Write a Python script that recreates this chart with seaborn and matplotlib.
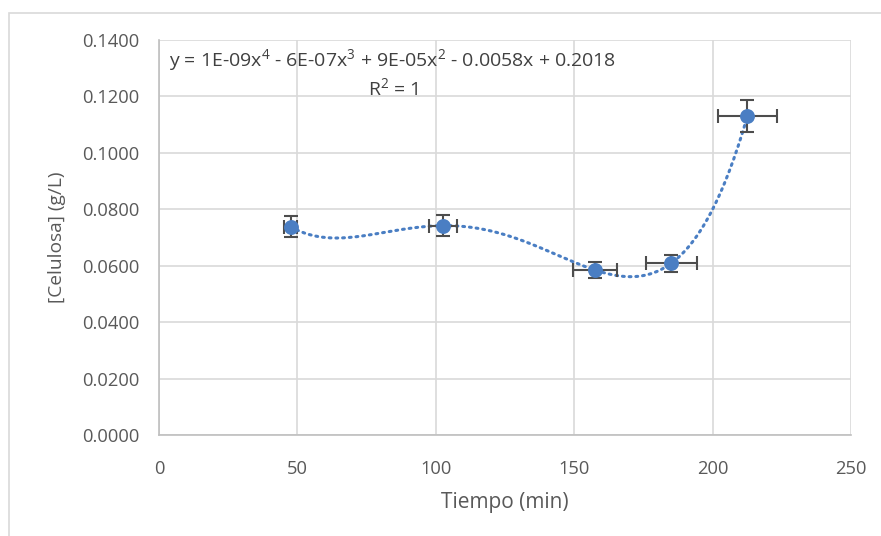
import numpy as np
import pandas as pd
import matplotlib
matplotlib.use("Agg")
import matplotlib.pyplot as plt
import seaborn as sns
from matplotlib.patches import Rectangle

# Measured cellulose concentration over time
tiempo = [47.6, 102.6, 157.4, 185.1, 212.6]          # min
celulosa = [0.0738, 0.0742, 0.0585, 0.0609, 0.1131]  # g/L
err_tiempo = [2.4, 5.1, 7.9, 9.3, 10.6]
err_celulosa = [0.0037, 0.0037, 0.0029, 0.0030, 0.0057]

x_ticks = [0, 50, 100, 150, 200, 250]
y_ticks = [0.0, 0.02, 0.04, 0.06, 0.08, 0.10, 0.12, 0.14]

equation = "y = 1E-09x$^4$ - 6E-07x$^3$ + 9E-05x$^2$ - 0.0058x + 0.2018"
r2_text = "R$^2$ = 1"

df = pd.DataFrame({"Tiempo": tiempo, "Celulosa": celulosa})

sns.set_theme(style="white")
plt.rcParams["font.family"] = ["Open Sans", "DejaVu Sans"]
plt.rcParams["mathtext.fontset"] = "custom"
plt.rcParams["mathtext.rm"] = "Open Sans"
plt.rcParams["mathtext.it"] = "Open Sans"

text_color = "#595959"
grid_color = "#D9D9D9"
blue = "#4A7EC3"

fig = plt.figure(figsize=(8.81, 5.36), dpi=100)
# light outer frame of the chart
fig.patches.append(Rectangle((9 / 881, -0.1), 1.0, 1.1 - 13 / 536,
                             transform=fig.transFigure, fill=False,
                             edgecolor="#D9D9D9", linewidth=1.2))

ax = fig.add_axes([159 / 881, 1 - 435 / 536, (851 - 159) / 881, (435 - 40) / 536])

# 4th-order polynomial trend line through the measurements
coef = np.polyfit(tiempo, celulosa, 4)
xs = np.linspace(min(tiempo), max(tiempo), 300)
trend = pd.DataFrame({"Tiempo": xs, "Celulosa": np.polyval(coef, xs)})
sns.lineplot(data=trend, x="Tiempo", y="Celulosa", ax=ax, color=blue,
             linewidth=2.2, linestyle=(0, (0.6, 1.6)), dash_capstyle="round",
             zorder=2)

ax.errorbar(tiempo, celulosa, xerr=err_tiempo, yerr=err_celulosa, fmt="none",
            ecolor="#4D4D4D", elinewidth=1.5, capsize=5, capthick=1.5, zorder=3)
sns.scatterplot(data=df, x="Tiempo", y="Celulosa", ax=ax, color=blue, s=115,
                edgecolor=blue, linewidth=0, zorder=4)

ax.set_xlim(0, 250)
ax.set_ylim(0, 0.14)
ax.set_xticks(x_ticks)
ax.set_yticks(y_ticks)
ax.set_xticklabels([str(v) for v in x_ticks])
ax.set_yticklabels([f"{v:.4f}" for v in y_ticks])
ax.tick_params(axis="both", length=0, labelsize=13.2, colors=text_color)
ax.tick_params(axis="x", pad=18)
ax.tick_params(axis="y", pad=14)

ax.grid(True, color=grid_color, linewidth=1.2)
ax.set_axisbelow(True)
for side in ["top", "right"]:
    ax.spines[side].set_visible(False)
for side in ["left", "bottom"]:
    ax.spines[side].set_color("#BFBFBF")
    ax.spines[side].set_linewidth(1.2)

ax.set_xlabel("Tiempo (min)", fontsize=15, color=text_color, labelpad=10)
ax.set_ylabel("[Celulosa] (g/L)", fontsize=13.8, color=text_color, labelpad=12)

ax.text(393 / 881, 1 - 60 / 536, equation, transform=fig.transFigure,
        ha="center", va="center", fontsize=14, color="#404040")
ax.text(393 / 881, 1 - 88 / 536, r2_text, transform=fig.transFigure,
        ha="center", va="center", fontsize=14, color="#404040")

fig.savefig("out.png", dpi=100)
